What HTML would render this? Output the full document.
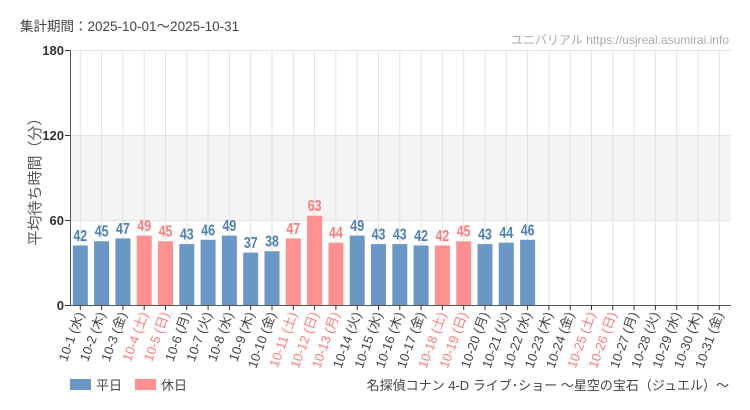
<!DOCTYPE html>
<html><head><meta charset="utf-8"><style>body{margin:0;background:#fff}svg{display:block}</style></head><body>
<svg width="750" height="410" xmlns="http://www.w3.org/2000/svg" font-family="Liberation Sans, Noto Sans CJK JP, sans-serif">
<rect width="750" height="410" fill="#fff"/>
<text x="20" y="31" font-size="13.5" fill="#444">集計期間：2025-10-01～2025-10-31</text>
<text x="729" y="44" font-size="12" fill="#aaa" text-anchor="end">ユニバリアル  https://usjreal.asumirai.info</text>
<rect x="70" y="135" width="661" height="85" fill="#f4f4f4"/>
<g stroke="#e2e2e2">
<line x1="70" y1="50.5" x2="731" y2="50.5"/><line x1="70" y1="135.5" x2="731" y2="135.5"/><line x1="70" y1="220.5" x2="731" y2="220.5"/>
<line x1="80.3" y1="50" x2="80.3" y2="305"/><line x1="101.6" y1="50" x2="101.6" y2="305"/><line x1="122.9" y1="50" x2="122.9" y2="305"/><line x1="144.2" y1="50" x2="144.2" y2="305"/><line x1="165.5" y1="50" x2="165.5" y2="305"/><line x1="186.8" y1="50" x2="186.8" y2="305"/><line x1="208.1" y1="50" x2="208.1" y2="305"/><line x1="229.4" y1="50" x2="229.4" y2="305"/><line x1="250.7" y1="50" x2="250.7" y2="305"/><line x1="272" y1="50" x2="272" y2="305"/><line x1="293.3" y1="50" x2="293.3" y2="305"/><line x1="314.6" y1="50" x2="314.6" y2="305"/><line x1="335.9" y1="50" x2="335.9" y2="305"/><line x1="357.2" y1="50" x2="357.2" y2="305"/><line x1="378.5" y1="50" x2="378.5" y2="305"/><line x1="399.8" y1="50" x2="399.8" y2="305"/><line x1="421.1" y1="50" x2="421.1" y2="305"/><line x1="442.4" y1="50" x2="442.4" y2="305"/><line x1="463.7" y1="50" x2="463.7" y2="305"/><line x1="485" y1="50" x2="485" y2="305"/><line x1="506.3" y1="50" x2="506.3" y2="305"/><line x1="527.6" y1="50" x2="527.6" y2="305"/><line x1="548.9" y1="50" x2="548.9" y2="305"/><line x1="570.2" y1="50" x2="570.2" y2="305"/><line x1="591.5" y1="50" x2="591.5" y2="305"/><line x1="612.8" y1="50" x2="612.8" y2="305"/><line x1="634.1" y1="50" x2="634.1" y2="305"/><line x1="655.4" y1="50" x2="655.4" y2="305"/><line x1="676.7" y1="50" x2="676.7" y2="305"/><line x1="698" y1="50" x2="698" y2="305"/><line x1="719.3" y1="50" x2="719.3" y2="305"/>
</g>
<g fill="#6a98c6">
<rect x="72.8" y="245.5" width="15" height="59.5"/>
<rect x="94.1" y="241.25" width="15" height="63.75"/>
<rect x="115.4" y="238.4" width="15" height="66.6"/>
<rect x="136.7" y="235.6" width="15" height="69.4" fill="#ff9090"/>
<rect x="158" y="241.25" width="15" height="63.75" fill="#ff9090"/>
<rect x="179.3" y="244.1" width="15" height="60.9"/>
<rect x="200.6" y="239.8" width="15" height="65.2"/>
<rect x="221.9" y="235.6" width="15" height="69.4"/>
<rect x="243.2" y="252.6" width="15" height="52.4"/>
<rect x="264.5" y="251.2" width="15" height="53.8"/>
<rect x="285.8" y="238.4" width="15" height="66.6" fill="#ff9090"/>
<rect x="307.1" y="215.75" width="15" height="89.25" fill="#ff9090"/>
<rect x="328.4" y="242.7" width="15" height="62.3" fill="#ff9090"/>
<rect x="349.7" y="235.6" width="15" height="69.4"/>
<rect x="371" y="244.1" width="15" height="60.9"/>
<rect x="392.3" y="244.1" width="15" height="60.9"/>
<rect x="413.6" y="245.5" width="15" height="59.5"/>
<rect x="434.9" y="245.5" width="15" height="59.5" fill="#ff9090"/>
<rect x="456.2" y="241.25" width="15" height="63.75" fill="#ff9090"/>
<rect x="477.5" y="244.1" width="15" height="60.9"/>
<rect x="498.8" y="242.7" width="15" height="62.3"/>
<rect x="520.1" y="239.8" width="15" height="65.2"/>
</g>
<g transform="scale(0.8,1)" font-size="15.5" font-weight="bold" text-anchor="middle" fill="#4a7fb5">
<text x="100.4" y="241">42</text><text x="127" y="236.75">45</text><text x="153.6" y="233.9">47</text>
<text x="180.25" y="231.1" fill="#ff7a7a">49</text><text x="206.9" y="236.75" fill="#ff7a7a">45</text>
<text x="233.5" y="239.6">43</text><text x="260.1" y="235.3">46</text><text x="286.75" y="231.1">49</text><text x="313.4" y="248.1">37</text><text x="340" y="246.7">38</text>
<text x="366.6" y="233.9" fill="#ff7a7a">47</text><text x="393.25" y="211.25" fill="#ff7a7a">63</text><text x="419.9" y="238.2" fill="#ff7a7a">44</text>
<text x="446.5" y="231.1">49</text><text x="473.1" y="239.6">43</text><text x="499.75" y="239.6">43</text><text x="526.4" y="241">42</text>
<text x="553" y="241" fill="#ff7a7a">42</text><text x="579.6" y="236.75" fill="#ff7a7a">45</text>
<text x="606.25" y="239.6">43</text><text x="632.9" y="238.2">44</text><text x="659.5" y="235.3">46</text>
</g>
<line x1="70.5" y1="50" x2="70.5" y2="305" stroke="#555"/>
<line x1="70" y1="305.5" x2="731" y2="305.5" stroke="#555"/>
<g stroke="#333">
<line x1="65" y1="50.5" x2="70" y2="50.5"/><line x1="65" y1="135.5" x2="70" y2="135.5"/><line x1="65" y1="220.5" x2="70" y2="220.5"/><line x1="65" y1="305.5" x2="70" y2="305.5"/>
<line x1="80.3" y1="305" x2="80.3" y2="310"/><line x1="101.6" y1="305" x2="101.6" y2="310"/><line x1="122.9" y1="305" x2="122.9" y2="310"/><line x1="144.2" y1="305" x2="144.2" y2="310"/><line x1="165.5" y1="305" x2="165.5" y2="310"/><line x1="186.8" y1="305" x2="186.8" y2="310"/><line x1="208.1" y1="305" x2="208.1" y2="310"/><line x1="229.4" y1="305" x2="229.4" y2="310"/><line x1="250.7" y1="305" x2="250.7" y2="310"/><line x1="272" y1="305" x2="272" y2="310"/><line x1="293.3" y1="305" x2="293.3" y2="310"/><line x1="314.6" y1="305" x2="314.6" y2="310"/><line x1="335.9" y1="305" x2="335.9" y2="310"/><line x1="357.2" y1="305" x2="357.2" y2="310"/><line x1="378.5" y1="305" x2="378.5" y2="310"/><line x1="399.8" y1="305" x2="399.8" y2="310"/><line x1="421.1" y1="305" x2="421.1" y2="310"/><line x1="442.4" y1="305" x2="442.4" y2="310"/><line x1="463.7" y1="305" x2="463.7" y2="310"/><line x1="485" y1="305" x2="485" y2="310"/><line x1="506.3" y1="305" x2="506.3" y2="310"/><line x1="527.6" y1="305" x2="527.6" y2="310"/><line x1="548.9" y1="305" x2="548.9" y2="310"/><line x1="570.2" y1="305" x2="570.2" y2="310"/><line x1="591.5" y1="305" x2="591.5" y2="310"/><line x1="612.8" y1="305" x2="612.8" y2="310"/><line x1="634.1" y1="305" x2="634.1" y2="310"/><line x1="655.4" y1="305" x2="655.4" y2="310"/><line x1="676.7" y1="305" x2="676.7" y2="310"/><line x1="698" y1="305" x2="698" y2="310"/><line x1="719.3" y1="305" x2="719.3" y2="310"/>
</g>
<g font-size="13" fill="#333" text-anchor="end" font-weight="bold">
<text x="64" y="55">180</text><text x="64" y="140">120</text><text x="64" y="225">60</text><text x="64" y="310">0</text>
</g>
<text transform="translate(40,178) rotate(-90)" font-size="15" fill="#555" text-anchor="middle">平均待ち時間（分）</text>
<g font-size="13" text-anchor="end" fill="#444">
<text transform="translate(84.3,314) rotate(-70)">10-1 (水)</text>
<text transform="translate(105.6,314) rotate(-70)">10-2 (木)</text>
<text transform="translate(126.9,314) rotate(-70)">10-3 (金)</text>
<text transform="translate(148.2,314) rotate(-70)" fill="#ff7a7a">10-4 (土)</text>
<text transform="translate(169.5,314) rotate(-70)" fill="#ff7a7a">10-5 (日)</text>
<text transform="translate(190.8,314) rotate(-70)">10-6 (月)</text>
<text transform="translate(212.1,314) rotate(-70)">10-7 (火)</text>
<text transform="translate(233.4,314) rotate(-70)">10-8 (水)</text>
<text transform="translate(254.7,314) rotate(-70)">10-9 (木)</text>
<text transform="translate(276,314) rotate(-70)">10-10 (金)</text>
<text transform="translate(297.3,314) rotate(-70)" fill="#ff7a7a">10-11 (土)</text>
<text transform="translate(318.6,314) rotate(-70)" fill="#ff7a7a">10-12 (日)</text>
<text transform="translate(339.9,314) rotate(-70)" fill="#ff7a7a">10-13 (月)</text>
<text transform="translate(361.2,314) rotate(-70)">10-14 (火)</text>
<text transform="translate(382.5,314) rotate(-70)">10-15 (水)</text>
<text transform="translate(403.8,314) rotate(-70)">10-16 (木)</text>
<text transform="translate(425.1,314) rotate(-70)">10-17 (金)</text>
<text transform="translate(446.4,314) rotate(-70)" fill="#ff7a7a">10-18 (土)</text>
<text transform="translate(467.7,314) rotate(-70)" fill="#ff7a7a">10-19 (日)</text>
<text transform="translate(489,314) rotate(-70)">10-20 (月)</text>
<text transform="translate(510.3,314) rotate(-70)">10-21 (火)</text>
<text transform="translate(531.6,314) rotate(-70)">10-22 (水)</text>
<text transform="translate(552.9,314) rotate(-70)">10-23 (木)</text>
<text transform="translate(574.2,314) rotate(-70)">10-24 (金)</text>
<text transform="translate(595.5,314) rotate(-70)" fill="#ff7a7a">10-25 (土)</text>
<text transform="translate(616.8,314) rotate(-70)" fill="#ff7a7a">10-26 (日)</text>
<text transform="translate(638.1,314) rotate(-70)">10-27 (月)</text>
<text transform="translate(659.4,314) rotate(-70)">10-28 (火)</text>
<text transform="translate(680.7,314) rotate(-70)">10-29 (水)</text>
<text transform="translate(702,314) rotate(-70)">10-30 (木)</text>
<text transform="translate(723.3,314) rotate(-70)">10-31 (金)</text>
</g>
<rect x="70" y="379" width="21" height="11" fill="#6a98c6"/><text x="96" y="390" font-size="13" fill="#444">平日</text>
<rect x="135" y="379" width="21" height="11" fill="#ff9090"/><text x="161" y="390" font-size="13" fill="#444">休日</text>
<text x="729" y="390" font-size="13" fill="#444" text-anchor="end">名探偵コナン 4-D ライブ･ショー ～星空の宝石（ジュエル）～</text>
</svg>
</body></html>
